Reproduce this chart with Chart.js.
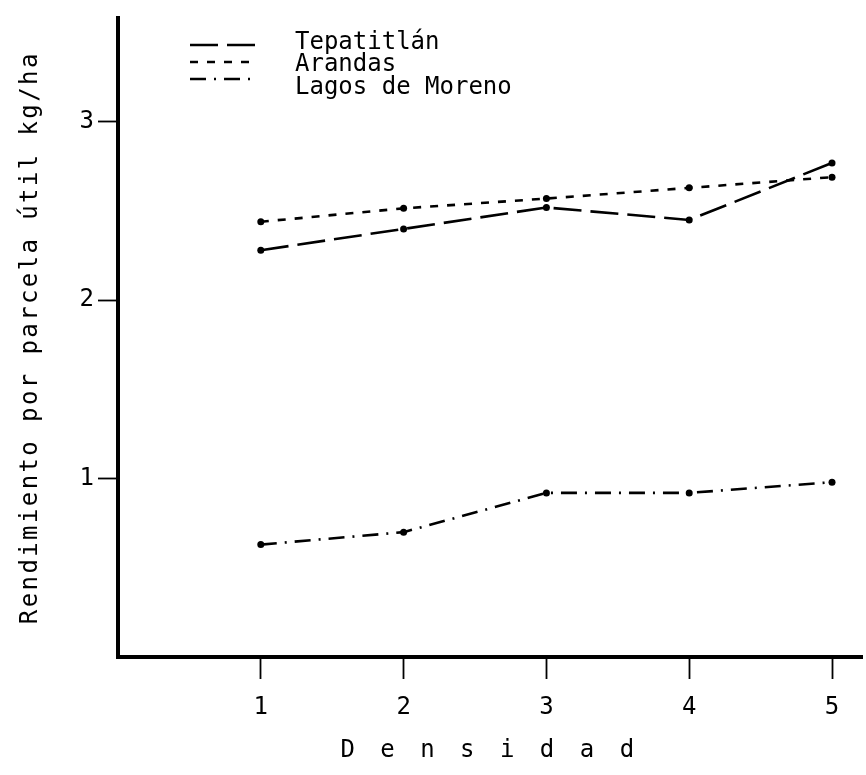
<!DOCTYPE html>
<html>
<head>
<meta charset="utf-8">
<script src="https://cdn.jsdelivr.net/npm/chart.js@4.4.1/dist/chart.umd.min.js"></script>
<style>
  html, body { margin: 0; padding: 0; background: #fff; }
  #wrap { width: 866px; height: 775px; }
</style>
</head>
<body>
<div id="wrap"><canvas id="grafica"></canvas></div>
<script>
// rendimiento por parcela util (kg/ha) segun densidad
const densidad = [1, 2, 3, 4, 5];
const tepatitlan = [2.28, 2.40, 2.52, 2.45, 2.77];
const arandas = [2.44, 2.515, 2.57, 2.63, 2.69];
const lagosDeMoreno = [0.63, 0.70, 0.92, 0.92, 0.98];
const localidades = ['Tepatitlán', 'Arandas', 'Lagos de Moreno'];
const xTicks = [1, 2, 3, 4, 5];
const yTicks = [1, 2, 3];

const fuente = 'DejaVu Sans Mono';
Chart.defaults.font.family = fuente;
Chart.defaults.color = '#000';

const puntos = vals => densidad.map((d, i) => ({ x: d, y: vals[i] }));

function serie(label, vals, dash) {
  return {
    label: label,
    data: puntos(vals),
    borderColor: '#000',
    backgroundColor: '#000',
    borderWidth: 2.6,
    borderDash: dash,
    pointRadius: 3.5,
    pointBorderWidth: 0,
    pointBackgroundColor: '#000',
    tension: 0,
    fill: false
  };
}

// leyenda dibujada dentro del area del grafico, arriba a la izquierda
const leyenda = {
  id: 'leyenda',
  afterDraw(chart) {
    const c = chart.ctx;
    const lineasY = [45, 62, 79];
    const textosY = [43, 65, 88];
    chart.data.datasets.forEach((ds, i) => {
      c.save();
      c.strokeStyle = '#000';
      c.lineWidth = 2.4;
      c.setLineDash(ds.borderDash);
      c.beginPath();
      c.moveTo(190, lineasY[i]);
      c.lineTo(258, lineasY[i]);
      c.stroke();
      c.restore();
      c.save();
      c.fillStyle = '#000';
      c.font = '24px ' + fuente;
      c.textBaseline = 'middle';
      c.fillText(ds.label, 295, textosY[i]);
      c.restore();
    });
  }
};

// espaciado de letras en los titulos de los ejes
const espaciado = {
  id: 'espaciado',
  beforeDraw(chart) {
    const c = chart.ctx;
    [['x', '5.5px'], ['y', '2.4px']].forEach(([id, sp]) => {
      const s = chart.scales[id];
      if (!s || s._drawTitleOrig) return;
      s._drawTitleOrig = s.drawTitle;
      s.drawTitle = function () {
        c.save();
        c.letterSpacing = sp;
        s._drawTitleOrig.call(s);
        c.restore();
      };
    });
  }
};

new Chart(document.getElementById('grafica'), {
  type: 'line',
  data: {
    datasets: [
      serie(localidades[0], tepatitlan, [28, 9]),
      serie(localidades[1], arandas, [8, 9]),
      serie(localidades[2], lagosDeMoreno, [16, 8, 2, 8])
    ]
  },
  options: {
    responsive: true,
    maintainAspectRatio: false,
    animation: false,
    layout: { padding: { top: 15, right: 0, bottom: 0, left: 0 } },
    plugins: {
      legend: { display: false },
      tooltip: { enabled: false }
    },
    scales: {
      x: {
        type: 'linear',
        min: 0,
        max: 5.21,
        afterFit(s) { s.height = 118; },
        afterBuildTicks(s) { s.ticks = xTicks.map(v => ({ value: v })); },
        ticks: { font: { size: 24 }, color: '#000', padding: 14, maxRotation: 0, autoSkip: false },
        grid: { drawOnChartArea: false, drawTicks: true, tickLength: 22, tickWidth: 1.8, tickColor: '#000' },
        border: { display: true, color: '#000', width: 4 },
        title: { display: true, text: 'D e n s i d a d', font: { size: 24 }, color: '#000', padding: { top: 0, bottom: 10 } }
      },
      y: {
        type: 'linear',
        min: 0,
        max: 3.58,
        afterFit(s) { s.width = 118; },
        afterBuildTicks(s) { s.ticks = yTicks.map(v => ({ value: v })); },
        ticks: { font: { size: 24 }, color: '#000', padding: 4 },
        grid: { drawOnChartArea: false, drawTicks: true, tickLength: 20, tickWidth: 1.8, tickColor: '#000' },
        border: { display: true, color: '#000', width: 4 },
        title: { display: true, text: 'Rendimiento por parcela útil kg/ha', font: { size: 24 }, color: '#000', padding: { top: 16, bottom: 0 } }
      }
    }
  },
  plugins: [espaciado, leyenda]
});
</script>
</body>
</html>
